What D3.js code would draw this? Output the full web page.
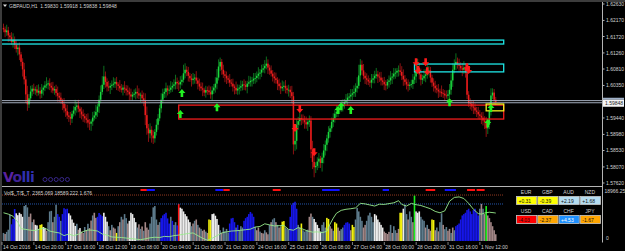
<!DOCTYPE html>
<html>
<head>
<meta charset="utf-8">
<title>GBPAUD,H1</title>
<script src="https://cdn.jsdelivr.net/npm/d3@7/dist/d3.min.js"></script>
<style>
  html, body { margin: 0; padding: 0; background: #000; overflow: hidden; }
  svg { display: block; }
</style>
</head>
<body>
<div id="chart"></div>
<script>
/**
 * GBPAUD H1 terminal screenshot: candles, zones, signal arrows,
 * volume histogram sub-window and a currency strength table.
 * Prices are kept in points (price x 10000).
 */

var symbolTitle = "GBPAUD,H1  1.59830 1.59918 1.59838 1.59848";
var lastPriceLabel = "1.59848";
var subTitle = "Vol$_T/$_T  2365.069 18589.222 1.676";

// ---- candles (close per hour, wick extensions in points) ----
var firstOpen = 16196;
var closes = [
  16192,16184,16189,16175,16170,16157,16163,16149,16137,16141,
  16122,16101,16080,16052,16010,15982,15999,16018,16026,16021,
  16024,16015,16020,16012,16023,16029,16035,16038,16041,16034,
  16029,16021,16025,16014,16006,16001,15992,15984,15971,15963,
  15951,15947,15942,15956,15965,15975,15979,15970,15962,15954,
  15949,15943,15939,15931,15928,15934,15945,15951,15961,15976,
  15995,16017,16037,16060,16045,16032,16029,16034,16037,16040,
  16045,16038,16034,16027,16023,16029,16026,16021,16017,16010,
  16004,16009,16012,16017,16013,16007,16009,15999,15993,15952,
  15915,15901,15911,15895,15887,15905,15925,15943,15971,15995,
  16012,16017,16027,16021,16023,16029,16034,16038,16045,16041,
  16038,16045,16051,16069,16079,16073,16062,16055,16050,16054,
  16057,16049,16040,16032,16027,16023,16015,16022,16021,16016,
  16010,16021,16029,16040,16057,16088,16101,16079,16066,16062,
  16055,16051,16043,16040,16032,16028,16021,16026,16029,16033,
  16038,16036,16031,16040,16044,16048,16049,16054,16056,16062,
  16068,16071,16079,16083,16090,16096,16085,16077,16068,16060,
  16055,16050,16040,16033,16027,16031,16034,16027,16022,16023,
  16016,16005,15870,15880,15925,15935,15944,15940,15938,15932,
  15926,15933,15937,15856,15821,15806,15810,15822,15830,15818,
  15833,15853,15869,15887,15905,15915,15933,15943,15956,15961,
  15967,15971,15978,15982,15989,15993,16001,16004,16009,16013,
  16017,16027,16034,16063,16093,16077,16062,16055,16051,16046,
  16043,16051,16055,16062,16066,16060,16057,16049,16045,16038,
  16035,16045,16049,16057,16060,16068,16071,16076,16077,16073,
  16062,16052,16045,16038,16034,16037,16039,16051,16060,16079,
  16085,16066,16051,16055,16062,16066,16073,16077,16057,16043,
  16034,16027,16023,16018,16017,16013,16012,16007,16006,16010,
  16023,16049,16079,16094,16101,16094,16090,16083,16079,16085,
  16071,16009,15985,15984,15976,15973,15965,15961,15954,15950,
  15945,15937,15933,15915,15925,15965,16007,16015,15995,15988
];
var wickUp = [
  12,8,16,10,7,14,18,9,12,10, 14,7,10,18,9,24,12,16,10,14, 8,12,18,10,16,6,12,20,8,14,
  10,16,8,12,18,10,14,6,16,12, 18,10,14,8,12,20,10,16,6,12, 14,8,12,18,10,6,16,12,20,8,
  12,18,24,30,14,10,16,8,12,18, 10,14,6,16,12,8,18,10,14,12, 16,8,12,10,18,14,6,12,16,20,
  24,12,18,10,14,8,16,12,10,18, 14,10,16,8,12,18,10,14,20,12, 8,16,12,24,18,10,14,8,12,16,
  10,18,8,14,12,16,6,12,10,14, 16,12,10,18,24,20,12,8,14,10, 12,8,16,10,14,6,18,12,8,16,
  10,14,12,8,18,12,10,16,14,12, 18,10,14,12,16,20,12,8,14,10, 12,16,8,14,10,18,12,16,8,14,
  10,18,12,36,16,12,20,10,14,12, 16,8,14,12,24,18,10,12,16,8, 14,18,12,10,16,8,12,14,10,18,
  12,10,16,14,8,18,12,10,16,12, 18,14,24,30,16,12,18,10,14,12, 10,16,12,14,18,10,12,16,8,14,
  12,8,14,18,10,16,12,8,14,20, 16,18,12,10,14,8,12,16,18,20, 24,12,16,10,18,14,20,12,10,8,
  12,14,10,16,8,18,12,10,14,12, 16,20,18,14,24,12,16,10,14,18, 12,20,10,14,8,16,12,10,14,12,
  10,16,12,14,8,24,20,12,10,8
];
var wickDn = [
  8,14,10,18,12,8,16,12,10,18, 16,12,20,14,24,18,10,8,12,10, 12,10,8,14,12,16,10,8,14,12,
  14,8,12,10,16,12,8,18,12,16, 10,14,18,12,8,14,16,10,18,14, 16,12,10,14,18,20,12,8,10,14,
  18,10,8,12,16,14,10,18,12,8, 12,16,14,10,8,16,12,14,10,18, 10,12,8,16,14,10,18,12,16,28,
  18,24,14,20,16,12,10,14,8,12, 10,12,16,14,10,8,12,10,14,16, 18,12,10,8,14,12,16,10,18,12,
  14,10,16,12,8,18,10,14,12,8, 12,18,10,14,16,8,12,14,10,18, 16,10,12,8,14,18,10,12,16,10,
  12,14,10,18,8,12,16,10,14,12, 10,16,12,8,14,10,18,12,8,14, 14,10,18,12,16,8,12,14,10,18,
  16,20,28,18,24,14,12,16,10,18, 12,18,14,24,20,28,16,12,18,14, 24,16,14,18,12,16,10,14,12,10,
  14,12,10,16,12,8,14,10,12,16, 10,14,12,8,18,12,10,16,14,10, 12,16,10,14,8,18,12,14,10,16,
  14,10,16,12,18,8,14,12,16,10, 12,18,10,14,16,12,8,14,12,18, 10,14,16,12,8,18,12,10,14,12,
  16,12,10,18,14,10,12,16,8,14, 12,14,18,10,16,12,14,10,18,12, 14,12,10,16,12,18,10,14,12,10,
  18,14,20,24,16,12,14,10,12,8
];

// ---- axes ----
var priceTicks = [16263,16217,16172,16126,16081,16035,15944,15898,15853,15807,15762];
var timeTickIdx = [0,20,40,60,80,100,120,140,160,180,200,220,240,260,280,300];
var timeLabels = ["14 Oct 2016","14 Oct 20:00","17 Oct 16:00","18 Oct 12:00","19 Oct 08:00",
  "20 Oct 04:00","21 Oct 00:00","21 Oct 20:00","24 Oct 16:00","25 Oct 12:00","26 Oct 08:00",
  "27 Oct 04:00","28 Oct 00:00","28 Oct 20:00","31 Oct 16:00","1 Nov 12:00"];

// ---- drawn objects ----
var zoneTop    = [16162, 16095, 15980, 15983];
var zoneBottom = [16151, 16073, 15941, 15964];
var zoneFrom   = [-4, 258, 110, 303];
var zoneTo     = [314, 314, 314, 314];
var zoneColor  = ["#1ee6e6", "#1ee6e6", "#f21c1c", "#f0f020"];
var priceLines = [15994, 15988];

var buyIdx   = [111, 112, 134, 210, 212, 218, 280, 304, 306];
var buyPrice = [15955, 16014, 15974, 15966, 15977, 15966, 15988, 15930, 15972];
var sellIdx   = [183, 186, 195, 259, 260, 265, 266, 291, 292];
var sellPrice = [15916, 15969, 15848, 16100, 16078, 16100, 16075, 16086, 16078];

// ---- volume sub-window ----
var volumes = [
  3000,2600,3400,4200,9800,6200,8200,11900,10300,9600,
  10500,10000,9000,13000,13400,12500,9000,10200,7000,8000,
  6000,5800,4500,6000,6200,5200,4800,3800,7000,11000,
  11200,7000,9000,13500,10000,9000,7500,10000,12200,11800,
  12000,10300,9500,8000,6800,5600,6400,4200,4800,3500,
  3000,5200,4000,6400,4800,7600,9500,10500,8600,9000,
  10400,9800,9200,10500,9000,7200,5500,4000,6000,5000,
  4600,3000,5500,7000,9000,8000,10000,8500,6500,7500,
  10500,10000,8600,7000,5000,6200,4500,5400,3800,7000,
  5000,4200,6500,9000,12500,13000,8000,6000,7000,8500,
  9500,10000,10500,8400,6500,9000,7500,6000,7000,5800,
  13800,12400,12000,11000,10000,9200,8000,7000,5500,6500,
  7500,8000,6000,5000,4500,3800,4200,3500,3000,8000,
  7800,10000,10200,9400,8200,6000,4000,3000,5000,3600,
  4500,3200,6500,8400,8600,7000,5000,6000,4000,5500,
  5000,7500,8500,9000,10000,10800,10200,9000,5200,4000,
  5000,3500,3000,2800,4000,3200,2500,6000,7000,8000,
  8500,7000,6000,5000,5500,7200,7400,5000,4600,4200,
  9000,13500,14200,14600,12000,6000,5000,6500,4000,3500,
  3800,4200,9000,10200,9000,8200,7000,6000,4800,3500,
  6000,7000,5000,8600,8200,5500,4600,3800,7000,6500,
  5000,3800,4400,5000,6000,6800,7000,6500,4000,6000,
  5200,8000,12300,11000,9000,7500,5000,6000,7500,9500,
  10500,9000,7000,10000,9500,8000,7000,6000,5000,3500,
  3000,2600,3400,6000,3000,5500,4000,3000,4500,10500,
  10500,12000,13500,10000,8000,11000,9000,7000,16900,11000,
  10500,11000,9000,8000,7500,5000,6000,4500,3800,8000,
  7800,4000,5000,3600,7000,10300,6000,4400,5200,3800,
  4500,3000,5000,4000,5500,6000,6500,8000,9500,10000,
  10500,11500,12000,11000,10000,11500,12000,10500,9500,12000,
  13800,12000,10000,13000,9500,8500,7000,5500,4000,2500
];
// one letter per bar: s steel, r rosy, w white, b blue, y yellow, g green, R red
var volColors = [
  "srsssbbbww","wwwsssrrsr","wwsyywwrss","srssbbsbbb","bwwwwwsrwr",
  "rsrsrrsrrb","bbbwwwsrsr","rysrsrssrw","wwwwsrsrsr","rrsssssrsb",
  "bbbbbsbssb","Rwwwwwwwsr","srsrsrrsry","ywwwwwsrss","ssbbbbsbss",
  "sbbbbbbbsr","rsrrsrrsrs","srsrsyysss","bbbbbssyss","ssrrswwwww",
  "sssyyrrsyy","rrssbbbbry","ysssssrrss","ssswwwwwwr","rrrsrssrry",
  "ywssrssrgw","wwsssrsrry","yrsrssrssr","rsrsbbbbbb","bbbbbbbbbs",
  "rsrgrrrrrr"
].join("");
var trendIdx = [0,3,6,9,11,14,17,20,23,26,29,32,35,38,41,44,47,50,53,56,59,62,65,68,71,74,77,80,
  83,86,89,92,95,98,101,104,107,110,113,116,119,122,125,128,131,134,137,140,143,146,149,152,155,
  158,161,164,167,170,173,176,179,182,185,188,191,194,197,200,203,205,207,209,212,215,218,221,224,
  227,230,233,236,239,242,245,248,250,253,256,259,262,265,268,271,274,277,280,283,286,289,292,295,
  298,300,302,305,308,309];
var trendVal = [10500,10000,9200,7000,4600,4300,4000,3900,4500,4800,3700,3300,3000,2000,2600,2000,
  2500,3500,4100,4000,3700,2600,2200,1500,1400,1300,1100,900,700,500,800,1200,1400,1300,1700,1600,
  2000,2200,2500,2800,3000,2000,1000,300,1000,2000,3000,3400,3700,3800,4000,4200,4400,5200,5400,
  6400,6000,5600,5700,5800,4300,4000,5000,4400,3700,3300,3400,3100,3600,6300,8500,10300,11400,
  11800,12000,12300,14000,13800,13400,13000,13700,13600,13900,14200,15000,13600,13000,14000,13500,
  13200,12600,12000,11000,10500,11200,14800,16200,16400,15800,14000,11800,10200,10000,10400,10700,
  10500,10400];
var volLevels = [17100, 13760];
var volLevelColor = ["#b8482a", "#2c6cd8"];
var volMax = 18966.25;

var sigFrom  = [86, 90, 133, 138, 169, 200, 238, 265, 277, 291, 297];
var sigTo    = [90, 95, 138, 142, 174, 211, 242, 271, 284, 296, 302];
var sigColor = ["r", "b", "b", "r", "r", "b", "b", "r", "b", "r", "r"];

// ---- currency strength table ----
var ccyTop = ["EUR", "GBP", "AUD", "NZD"];
var ccyTopVal = [0.31, -0.39, 2.19, 1.68];
var ccyTopFill = ["#ffff00", "#ffff00", "#b4dcf0", "#b4dcf0"];
var ccyBot = ["USD", "CAD", "CHF", "JPY"];
var ccyBotVal = [-4.03, -2.37, 4.53, -1.67];
var ccyBotFill = ["#ff0000", "#ffa500", "#1e90ff", "#ffa500"];

(function () {
    "use strict";

    var W = 625, H = 251;
    var axisX = 602;
    var mainTop = 2, mainBottom = 186, subTop = 187, subBottom = 242;
    var font = "'Liberation Sans', Arial, sans-serif";
    var fs = "5px";
    var textCol = "#d2d2d2";

    var colorOf = { s: "#5d7b8c", r: "#a38787", w: "#ececec", b: "#1616e8",
                    y: "#f2f20c", g: "#1cf01c", R: "#ff1212" };

    var svg = d3.select("#chart").append("svg")
        .attr("width", W)
        .attr("height", H);

    svg.append("rect").attr("width", W).attr("height", H).attr("fill", "#000");

    var defs = svg.append("defs");
    defs.append("clipPath").attr("id", "clipMain").append("rect")
        .attr("x", 2).attr("y", mainTop).attr("width", axisX - 2).attr("height", mainBottom - mainTop);
    defs.append("clipPath").attr("id", "clipSub").append("rect")
        .attr("x", 2).attr("y", subTop).attr("width", axisX - 2).attr("height", subBottom - subTop);

    var x = d3.scaleLinear().domain([0, 300]).range([3.5, 481.4]);
    var y = d3.scaleLinear().domain([15762, 16263]).range([183, 4]);
    var yv = d3.scaleLinear().domain([0, volMax]).range([241, 190]);

    // window frame
    svg.append("rect").attr("x", 0).attr("y", 0).attr("width", W).attr("height", 2).attr("fill", "#3c3c3c");
    svg.append("rect").attr("x", 0).attr("y", 0).attr("width", 2).attr("height", H).attr("fill", "#3c3c3c");

    var main = svg.append("g").attr("clip-path", "url(#clipMain)");

    // Volli logo (behind the price action)
    var logo = main.append("text")
        .attr("x", 3).attr("y", 182)
        .attr("font-family", "'DejaVu Sans', sans-serif")
        .attr("font-weight", "bold")
        .attr("font-size", "14px")
        .attr("letter-spacing", "-0.6");
    logo.append("tspan").attr("fill", "#5b22a0").text("V");
    logo.append("tspan").attr("fill", "#3f2296").text("o");
    logo.append("tspan").attr("fill", "#2f2fae").text("lli");
    main.selectAll("circle.logo").data([0, 1, 2, 3, 4]).enter().append("circle")
        .attr("cx", function (d) { return 45 + d * 5.6; })
        .attr("cy", 179.5)
        .attr("r", 2)
        .attr("fill", "none")
        .attr("stroke", "#3d2a96")
        .attr("stroke-width", 0.9);

    // candles
    var bars = closes.map(function (c, i) {
        var o = i ? closes[i - 1] : firstOpen;
        return { i: i, o: o, c: c,
                 h: Math.max(o, c) + wickUp[i],
                 l: Math.min(o, c) - wickDn[i] };
    });

    main.selectAll("line.wick").data(bars).enter().append("line")
        .attr("x1", function (d) { return x(d.i); })
        .attr("x2", function (d) { return x(d.i); })
        .attr("y1", function (d) { return y(d.h); })
        .attr("y2", function (d) { return y(d.l); })
        .attr("stroke", function (d) { return d.c >= d.o ? "#0c6e1e" : "#8a1212"; })
        .attr("stroke-width", 1);

    main.selectAll("rect.body").data(bars).enter().append("rect")
        .attr("x", function (d) { return x(d.i) - 0.75; })
        .attr("width", 1.5)
        .attr("y", function (d) { return y(Math.max(d.o, d.c)); })
        .attr("height", function (d) { return Math.max(0.8, Math.abs(y(d.o) - y(d.c))); })
        .attr("fill", function (d) { return d.c >= d.o ? "#1ad83e" : "#ef1c1c"; });

    // current price lines
    main.selectAll("line.pl").data(priceLines).enter().append("line")
        .attr("x1", 2).attr("x2", axisX)
        .attr("y1", function (d) { return y(d) + 0.5; })
        .attr("y2", function (d) { return y(d) + 0.5; })
        .attr("stroke", "#a3acbc")
        .attr("stroke-width", 1);

    // rectangles
    main.selectAll("rect.zone").data(zoneTop).enter().append("rect")
        .attr("x", function (d, k) { return x(zoneFrom[k]); })
        .attr("width", function (d, k) { return x(zoneTo[k]) - x(zoneFrom[k]); })
        .attr("y", function (d) { return y(d); })
        .attr("height", function (d, k) { return y(zoneBottom[k]) - y(d); })
        .attr("fill", "none")
        .attr("stroke", function (d, k) { return zoneColor[k]; })
        .attr("stroke-width", 1.3);

    // signal arrows
    function upArrow(cx, cy) {
        return "M" + (cx - 3.5) + "," + cy + "L" + cx + "," + (cy - 4) + "L" + (cx + 3.5) + "," + cy +
            "L" + (cx + 1.3) + "," + cy + "L" + (cx + 1.3) + "," + (cy + 4) + "L" + (cx - 1.3) + "," + (cy + 4) +
            "L" + (cx - 1.3) + "," + cy + "Z";
    }
    function downArrow(cx, cy) {
        return "M" + (cx - 3.5) + "," + cy + "L" + cx + "," + (cy + 4) + "L" + (cx + 3.5) + "," + cy +
            "L" + (cx + 1.3) + "," + cy + "L" + (cx + 1.3) + "," + (cy - 4) + "L" + (cx - 1.3) + "," + (cy - 4) +
            "L" + (cx - 1.3) + "," + cy + "Z";
    }
    main.selectAll("path.buy").data(buyIdx).enter().append("path")
        .attr("d", function (d, k) { return upArrow(x(d), y(buyPrice[k])); })
        .attr("fill", "#22f022");
    main.selectAll("path.sell").data(sellIdx).enter().append("path")
        .attr("d", function (d, k) { return downArrow(x(d), y(sellPrice[k])); })
        .attr("fill", "#ff1a1a");

    // chart title
    svg.append("path").attr("d", "M3,4.5L7,4.5L5,7Z").attr("fill", "#e0e0e0");
    svg.append("text")
        .attr("x", 9).attr("y", 7.5)
        .attr("font-family", font).attr("font-size", fs)
        .attr("fill", textCol)
        .attr("xml:space", "preserve")
        .text(symbolTitle);

    // separators and axis lines
    svg.append("line").attr("x1", 2).attr("x2", axisX).attr("y1", 186.5).attr("y2", 186.5)
        .attr("stroke", "#b4b4b4").attr("stroke-width", 1);
    svg.append("line").attr("x1", axisX + 0.5).attr("x2", axisX + 0.5).attr("y1", 2).attr("y2", subBottom + 0.5)
        .attr("stroke", "#b4b4b4").attr("stroke-width", 1);

    // price axis
    var pAxis = svg.append("g");
    pAxis.selectAll("line").data(priceTicks).enter().append("line")
        .attr("x1", axisX).attr("x2", axisX + 2.5)
        .attr("y1", function (d) { return y(d); })
        .attr("y2", function (d) { return y(d); })
        .attr("stroke", "#b4b4b4");
    pAxis.selectAll("text").data(priceTicks).enter().append("text")
        .attr("x", axisX + 4)
        .attr("y", function (d) { return y(d) + 2; })
        .attr("font-family", font).attr("font-size", fs)
        .attr("fill", textCol)
        .text(function (d) { return (d / 10000).toFixed(5); });

    var lastY = y(priceLines[1]);
    svg.append("rect").attr("x", axisX + 1).attr("y", lastY - 4.5).attr("width", 21).attr("height", 2)
        .attr("fill", "#9fb0c8");
    svg.append("rect").attr("x", axisX + 1).attr("y", lastY - 2.5).attr("width", 21).attr("height", 7)
        .attr("fill", "#f4f4f4");
    svg.append("text").attr("x", axisX + 3).attr("y", lastY + 3)
        .attr("font-family", font).attr("font-size", fs)
        .attr("fill", "#202020").text(lastPriceLabel);

    // ---- volume sub-window ----
    var sub = svg.append("g").attr("clip-path", "url(#clipSub)");

    sub.selectAll("rect.vol").data(volumes).enter().append("rect")
        .attr("x", function (d, i) { return x(i) - 0.8; })
        .attr("width", 1.6)
        .attr("y", function (d) { return yv(d); })
        .attr("height", function (d) { return yv(0) - yv(d); })
        .attr("fill", function (d, i) { return colorOf[volColors.charAt(i)]; });

    sub.selectAll("line.lvl").data(volLevels).enter().append("line")
        .attr("x1", 2).attr("x2", x(314))
        .attr("y1", function (d) { return yv(d); })
        .attr("y2", function (d) { return yv(d); })
        .attr("stroke", function (d, k) { return volLevelColor[k]; })
        .attr("stroke-width", 0.8)
        .attr("stroke-dasharray", "1,1");

    var trendLine = d3.line()
        .x(function (d, k) { return x(trendIdx[k]); })
        .y(function (d) { return yv(d); });
    sub.append("path")
        .attr("d", trendLine(trendVal))
        .attr("fill", "none")
        .attr("stroke", "#98ec8c")
        .attr("stroke-width", 0.9);

    sub.selectAll("rect.sig").data(sigFrom).enter().append("rect")
        .attr("x", function (d) { return x(d); })
        .attr("width", function (d, k) { return x(sigTo[k]) - x(d); })
        .attr("y", 189)
        .attr("height", 2)
        .attr("fill", function (d, k) { return sigColor[k] === "r" ? "#ff1010" : "#1010ff"; });

    svg.append("text")
        .attr("x", 4).attr("y", 194.5)
        .attr("font-family", font).attr("font-size", fs)
        .attr("fill", textCol)
        .attr("xml:space", "preserve")
        .text(subTitle);

    svg.append("text").attr("x", axisX + 2.5).attr("y", yv(volMax) + 2.5)
        .attr("font-family", font).attr("font-size", fs).attr("fill", textCol)
        .text(volMax.toFixed(2));
    svg.append("text").attr("x", axisX + 4).attr("y", yv(0) - 1)
        .attr("font-family", font).attr("font-size", fs).attr("fill", textCol)
        .text("0");

    // time axis
    var tAxis = svg.append("g");
    tAxis.selectAll("line").data(timeTickIdx).enter().append("line")
        .attr("x1", function (d) { return x(d) - 1.5; })
        .attr("x2", function (d) { return x(d) - 1.5; })
        .attr("y1", subBottom).attr("y2", subBottom + 3)
        .attr("stroke", "#b4b4b4").attr("stroke-width", 0.7);
    tAxis.selectAll("text").data(timeTickIdx).enter().append("text")
        .attr("x", function (d) { return x(d) - 0.5; })
        .attr("y", 248.5)
        .attr("font-family", font).attr("font-size", fs)
        .attr("fill", textCol)
        .text(function (d, k) { return timeLabels[k]; });

    // ---- currency strength table ----
    var colX = d3.scaleBand().domain([0, 1, 2, 3]).range([516, 600]).paddingInner(0.05);
    function fmt(v) { return (v >= 0 ? "+" : "") + v.toFixed(2); }
    function tableRow(names, vals, fills, headY, boxY) {
        var g = svg.append("g");
        g.selectAll("text.h").data(names).enter().append("text")
            .attr("x", function (d, k) { return colX(k) + colX.bandwidth() / 2; })
            .attr("y", headY)
            .attr("text-anchor", "middle")
            .attr("font-family", font).attr("font-size", fs)
            .attr("fill", textCol)
            .text(function (d) { return d; });
        g.selectAll("rect").data(vals).enter().append("rect")
            .attr("x", function (d, k) { return colX(k) + 0.5; })
            .attr("y", boxY + 0.5)
            .attr("width", colX.bandwidth())
            .attr("height", 8)
            .attr("fill", function (d, k) { return fills[k]; })
            .attr("stroke", "#c8c8c8")
            .attr("stroke-width", 0.8);
        g.selectAll("text.v").data(vals).enter().append("text")
            .attr("x", function (d, k) { return colX(k) + 2.5; })
            .attr("y", boxY + 6.5)
            .attr("font-family", font).attr("font-size", fs)
            .attr("fill", function (d, k) { return fills[k] === "#1e90ff" ? "#ffffff" : "#101010"; })
            .text(fmt);
    }
    tableRow(ccyTop, ccyTopVal, ccyTopFill, 194, 196);
    tableRow(ccyBot, ccyBotVal, ccyBotFill, 213, 215);
})();
</script>
</body>
</html>
